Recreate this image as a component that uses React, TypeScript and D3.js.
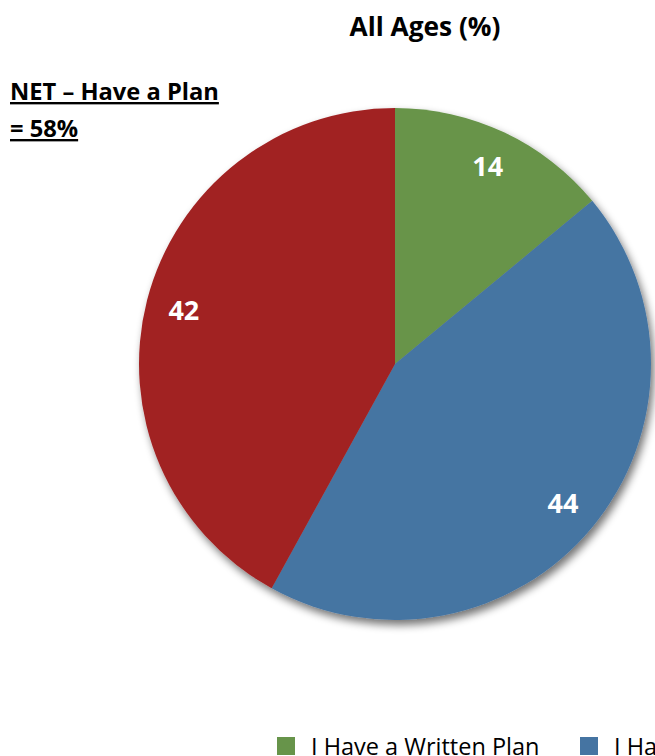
import React from "react";
import * as d3 from "d3";

const categories = ["I Have a Written Plan", "I Have a Plan, but It Is Not Written", "I Do Not Have a Plan"];
const values = [14, 44, 42];
const colors = ["#67944A", "#4574A2", "#A12224"];
const title = "All Ages (%)";
const noteLines = ["NET – Have a Plan", "= 58%"];

const W = 655, H = 756;
const cx = 395, cy = 364, R = 256;
const font = "'Open Sans', 'Liberation Sans', sans-serif";

export default function App() {
  const pie = d3.pie<number>().sort(null).value((d) => d)(values);
  const arc = d3.arc<d3.PieArcDatum<number>>().innerRadius(0).outerRadius(R);
  const labelArc = d3.arc<d3.PieArcDatum<number>>().innerRadius(218).outerRadius(218);
  const legendX = [277, 580, 950];
  return (
    <svg width={W} height={H} style={{ position: "absolute", left: 0, top: 0, background: "#fff" }} fontFamily={font}>
      <defs>
        <filter id="sh" x="-20%" y="-20%" width="140%" height="140%">
          <feGaussianBlur in="SourceAlpha" stdDeviation="4" />
          <feOffset dx="3" dy="5" result="b" />
          <feComponentTransfer><feFuncA type="linear" slope="0.55" /></feComponentTransfer>
          <feMerge><feMergeNode /><feMergeNode in="SourceGraphic" /></feMerge>
        </filter>
      </defs>
      <text x={425} y={36} textAnchor="middle" fontSize={26.3} fontWeight="bold" fill="#000">{title}</text>
      {noteLines.map((t, i) => (
        <text key={i} x={10} y={100 + i * 37} fontSize={23.7} fontWeight="bold" textDecoration="underline" fill="#000">{t}</text>
      ))}
      <g transform={`translate(${cx},${cy})`}>
        <g filter="url(#sh)">
          {pie.map((p, i) => (
            <path key={i} d={arc(p) || ""} fill={colors[i]} />
          ))}
        </g>
        {pie.map((p, i) => {
          const [x, y] = labelArc.centroid(p);
          return (
            <text key={i} x={x} y={y} dy="0.36em" textAnchor="middle" fontSize={27} fontWeight="bold" fill="#fff">{values[i]}</text>
          );
        })}
      </g>
      {categories.map((c, i) => (
        <g key={i} transform={`translate(${legendX[i]},737)`}>
          <rect width={18} height={18} fill={colors[i]} />
          <text x={34} y={18} fontSize={23.5} fill="#000">{c}</text>
        </g>
      ))}
    </svg>
  );
}
